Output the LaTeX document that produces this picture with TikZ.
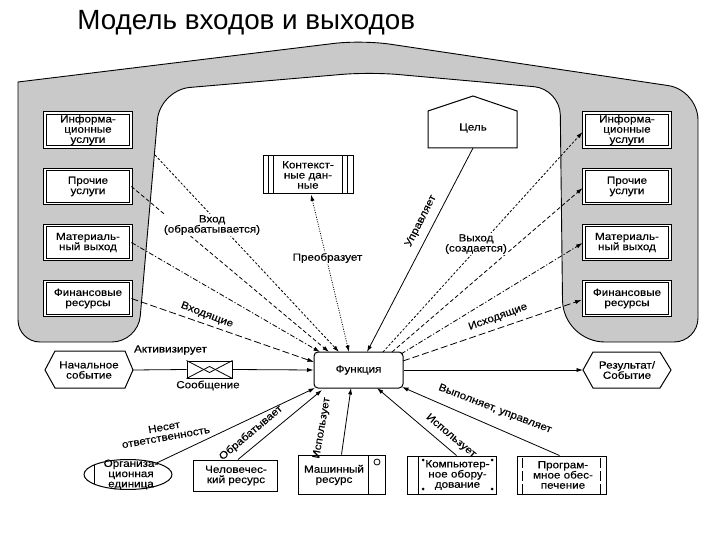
\documentclass[tikz,border=0pt]{standalone}
\usepackage{fontspec}
\setmainfont{Liberation Sans}
\newfontfamily\dfont[FakeStretch=1.12,FakeBold=0.3]{Liberation Sans}
\usetikzlibrary{arrows.meta,calc,shapes.geometric}
\tikzset{
  txt/.style={font=\dfont\fontsize{10.4}{10.2}\selectfont, align=center, inner sep=0pt},
  lbl/.style={txt, fill=white, inner sep=1pt},
  band/.style={fill=black!21, draw=black, line width=0.9pt},
  dbox/.style={txt, draw, double, double distance=1.8pt, line width=0.8pt, fill=white,
               minimum width=86pt, minimum height=34pt},
  sbox/.style={txt, draw, line width=1pt, fill=white},
  arr/.style={-{Latex[length=6.5pt,width=4.2pt]}},
  dshort/.style={dash pattern=on 2.4pt off 1.8pt},
  dmid/.style={dash pattern=on 4pt off 2.4pt},
  ddot/.style={dash pattern=on 5pt off 2pt on 1.2pt off 2pt},
  dlong/.style={dash pattern=on 7pt off 3pt},
  ddotted/.style={dash pattern=on 1pt off 1.4pt},
}
\begin{document}
\begin{tikzpicture}[x=1pt,y=-1pt,line width=0.8pt]
\useasboundingbox (0,0) rectangle (720,540);
% title
\node[anchor=base west, inner sep=0pt, font=\fontsize{27.8}{30}\selectfont] (title) at (77,30) {Модель входов и выходов};
% gray band (corner at P uses the option given before the segment leaving P)
\draw[band] (18,200) -- (18,82) [rounded corners=28pt] -- (362,40)
  [rounded corners=30pt] -- (698,90) [rounded corners=24pt] -- (698,342) [rounded corners=42pt]
  -- (563,342) [rounded corners=26pt] -- (560,89) [rounded corners=28pt] -- (370,72)
  [rounded corners=30pt] -- (160,90) [rounded corners=26pt] -- (138,342) [rounded corners=22pt]
  -- (18,342) [rounded corners=44pt] -- cycle;
% boxes in the band
\node[dbox] (L1) at (88,130) {Информа-\\ционные\\услуги};
\node[dbox] (L2) at (88,186.5) {Прочие\\услуги};
\node[dbox] (L3) at (88,242.5) {Материаль-\\ный выход};
\node[dbox] (L4) at (88,298.5) {Финансовые\\ресурсы};
\node[dbox] (R1) at (627,130) {Информа-\\ционные\\услуги};
\node[dbox] (R2) at (627,186.5) {Прочие\\услуги};
\node[dbox] (R3) at (627,242.5) {Материаль-\\ный выход};
\node[dbox] (R4) at (627,298.5) {Финансовые\\ресурсы};
% context data
\node[sbox, minimum width=90pt, minimum height=38pt] (ctx) at (308,175) {Контекст-\\ные дан-\\ные};
\draw ([xshift=6pt]ctx.north west) -- ([xshift=6pt]ctx.south west);
\draw ([xshift=11pt]ctx.north west) -- ([xshift=11pt]ctx.south west);
\draw ([xshift=-6pt]ctx.north east) -- ([xshift=-6pt]ctx.south east);
\draw ([xshift=-11pt]ctx.north east) -- ([xshift=-11pt]ctx.south east);
% goal
\draw[fill=white, line width=1pt] (428,148) -- (428,111) -- (473,96) -- (517,111) -- (517,148) -- cycle;
\node[txt] (goal) at (473,128) {Цель};
\coordinate (goalB) at (473,148);
% function
\node[sbox, rounded corners=4pt, minimum width=89pt, minimum height=36pt] (func) at (358.5,370) {Функция};
% start event
\draw[line width=1pt, fill=white] (45,370) -- (55,351) -- (125,351) -- (133,370) -- (125,388) -- (55,388) -- cycle;
\node[txt] (start) at (89,370) {Начальное\\событие};
\coordinate (startR) at (133,370);
% message
\node[draw, line width=1pt, minimum width=45pt, minimum height=17pt, inner sep=0pt] (env) at (209.5,369.5) {};
\draw (env.north west) -- ($(env.center)+(0,3)$) -- (env.north east);
\draw (env.south west) -- ($(env.center)+(0,-3)$) -- (env.south east);
\node[txt] (act) at (170.5,350) {Активизирует};
\node[txt] (msg) at (208,385.5) {Сообщение};
% result
\draw[line width=1pt, fill=white] (583,370) -- (593,352) -- (660,352) -- (671,370) -- (660,388) -- (593,388) -- cycle;
\node[txt] (res) at (627,370) {Результат/\\Событие};
\coordinate (resL) at (583,370);
% bottom resources
\node[draw, ellipse, line width=1pt, minimum width=88pt, minimum height=30pt, inner sep=0pt] (org) at (128,474.5) {};
\draw (94,465) -- (94,484);
\node[txt] (orgT) at (131,474.5) {Организа-\\ционная\\единица};
\node[sbox, minimum width=84pt, minimum height=31pt] (hum) at (235,475.5) {};
\node[txt] (humT) at (236,475.5) {Человечес-\\кий ресурс};
\node[sbox, minimum width=87pt, minimum height=39pt] (mach) at (341.5,474.5) {};
\draw (368,455) -- (368,494);
\draw (377,462) circle (3pt);
\node[txt] (machT) at (334,475) {Машинный\\ресурс};
\node[sbox, minimum width=89pt, minimum height=38pt] (comp) at (451.5,475) {};
\draw (418,456) -- (418,494);
\foreach \p in {(423,460),(492,460),(423,489),(492,489)} \fill \p circle (1.5pt);
\node[txt] (compT) at (457.5,475) {Компьютер-\\ное обору-\\дование};
\node[sbox, minimum width=89pt, minimum height=38pt] (soft) at (561.5,475) {};
\draw[dash pattern=on 10pt off 3pt] (522,458) -- (522,494);
\draw[dash pattern=on 10pt off 3pt] (600,458) -- (600,494);
\node[txt] (softT) at (563,475) {Програм-\\мное обес-\\печение};
% anchor points on the function box
\coordinate (L1s) at (155,155);
\coordinate (ft1) at (314,362);
\coordinate (ft2) at (320,352);
\coordinate (ft3) at (329,352);
\coordinate (ft4) at (339,352);
\coordinate (ft5) at (349,352);
\coordinate (ft6) at (367,352);
\coordinate (fr1) at (383,352);
\coordinate (fr2) at (392,352);
\coordinate (fr3) at (401,354);
\coordinate (fr4) at (403,361);
\coordinate (fb1) at (315,388);
\coordinate (fb2) at (322,390);
\coordinate (fb3) at (351,388);
\coordinate (fb4) at (377,388);
\coordinate (fb5) at (402,387);
% left inputs
\draw[arr, dshort] (L1s) -- (ft4);
\draw[arr, dmid] (L2.east) -- (ft3);
\draw[arr, ddot] (L3.east) -- (ft2);
\draw[arr, dlong] (L4.east) -- (ft1);
% outputs
\draw[arr, dshort] (fr1) -- ([xshift=-1pt,yshift=-2pt]R1.west);
\draw[arr, dmid] (fr2) -- ([xshift=-1pt,yshift=-1.5pt]R2.west);
\draw[arr, ddot] (fr3) -- ([xshift=-1pt,yshift=-0.5pt]R3.west);
\draw[arr, dlong] (fr4) -- ([xshift=-2pt,yshift=-1.5pt]R4.west);
% context & goal
\draw[{Latex[length=6.5pt,width=4.2pt]}-{Latex[length=6.5pt,width=4.2pt]}, ddotted] ([xshift=3pt]ctx.south) -- (ft5);
\draw[arr] (goalB) -- (ft6);
% event flow
\draw (startR) -- (env.west);
\draw[arr] (env.east) -- (func.west);
\draw[arr] (func.east) -- (resL);
% resources
\draw[arr] (org.22) -- (fb1);
\draw[arr] ([xshift=3pt]hum.north) -- (fb2);
\draw[arr] (mach.north) -- (fb3);
\draw[arr] ([xshift=5pt]comp.north) -- (fb4);
\draw[arr] ([xshift=-2pt]soft.north) -- (fb5);
% labels
\node[lbl] (lin) at (212,225) {Вход\\(обрабатывается)};
\node[lbl] (lout) at (476,244) {Выход\\(создается)};
\node[lbl] (ltr) at (327.5,258) {Преобразует};
\node[txt, rotate=63] (lctl) at (421,221) {Управляет};
\node[txt, rotate=-21] (lincoming) at (207,315) {Входящие};
\node[txt, rotate=20] (loutgoing) at (498,317) {Исходящие};
\node[txt, rotate=10] (lresp) at (165,432) {Несет\\ответственность};
\node[txt, rotate=40] (lproc) at (251,433) {Обрабатывает};
\node[txt, rotate=80] (luse1) at (322,428) {Использует};
\node[txt, rotate=-40] (luse2) at (451,436) {Использует};
\node[txt, rotate=-21] (lexec) at (495,409) {Выполняет, управляет};
\end{tikzpicture}
\end{document}
